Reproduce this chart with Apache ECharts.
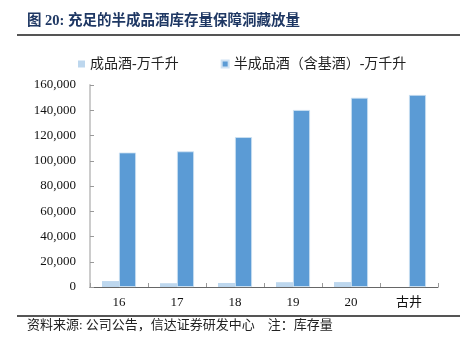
<!DOCTYPE html>
<html>
<head>
<meta charset="utf-8">
<script src="https://cdn.jsdelivr.net/npm/echarts@6/dist/echarts.min.js"></script>
<style>
  html, body { margin: 0; padding: 0; background: #fff; }
  #chart { width: 468px; height: 354px; }
</style>
</head>
<body>
<div id="chart"></div>
<script>
// data
var categories = ["16", "17", "18", "19", "20", "古井"];
var finished = [4700, 3000, 3200, 3800, 3900, null];
var semiFinished = [106500, 107400, 118700, 140200, 149900, 152100];
var seriesNames = ["成品酒-万千升", "半成品酒（含基酒）-万千升"];

var serif = "'Liberation Serif', 'Times New Roman', 'Noto Sans CJK SC', serif";

var dom = document.getElementById("chart");
var myChart = echarts.init(dom, null, { renderer: "canvas" });

var option = {
  animation: false,
  backgroundColor: "#fff",
  graphic: [
    {
      type: "text", left: 27, top: 14,
      style: { text: "图 20: 充足的半成品酒库存量保障洞藏放量", fill: "#1f3864",
        font: "bold 14.5px " + serif }
    },
    {
      type: "rect", shape: { x: 17, y: 34, width: 443, height: 2 },
      style: { fill: "#555" }
    },
    {
      type: "rect", shape: { x: 17, y: 315, width: 443, height: 2 },
      style: { fill: "#555" }
    },
    {
      type: "text", left: 27, top: 319,
      style: { text: "资料来源: 公司公告，信达证券研发中心    注：库存量", fill: "#222",
        font: "13px " + serif }
    }
  ],
  legend: {
    top: 52,
    left: 73,
    itemWidth: 7,
    itemHeight: 7,
    itemGap: 42,
    icon: "rect",
    textStyle: { fontSize: 14, color: "#222", fontFamily: serif },
    data: seriesNames
  },
  grid: { left: 90, right: 30, top: 85, bottom: 67 },
  xAxis: {
    type: "category",
    data: categories,
    axisLine: { lineStyle: { color: "#666", width: 1 } },
    axisTick: { show: true, inside: true, length: 4, lineStyle: { color: "#999" } },
    axisLabel: { color: "#111", fontSize: 13, fontFamily: serif, margin: 9 }
  },
  yAxis: {
    type: "value",
    min: 0,
    max: 160000,
    interval: 20000,
    axisLine: { show: true, lineStyle: { color: "#ccc", width: 2 } },
    axisTick: { show: true, inside: true, length: 4, lineStyle: { color: "#999" } },
    splitLine: { show: false },
    axisLabel: {
      color: "#111", fontSize: 13, fontFamily: serif, margin: 14,
      formatter: function (v) { return v.toLocaleString("en-US"); }
    }
  },
  series: [
    {
      name: seriesNames[0],
      type: "bar",
      data: finished,
      barWidth: 17,
      barGap: "0%",
      itemStyle: { color: "#bdd7ee" }
    },
    {
      name: seriesNames[1],
      type: "bar",
      data: semiFinished,
      barWidth: 17,
      itemStyle: { color: "#5b9bd5", borderColor: "#cfe2f3", borderWidth: 0.8 }
    }
  ]
};

myChart.setOption(option);
window.addEventListener("resize", myChart.resize);
</script>
</body>
</html>
